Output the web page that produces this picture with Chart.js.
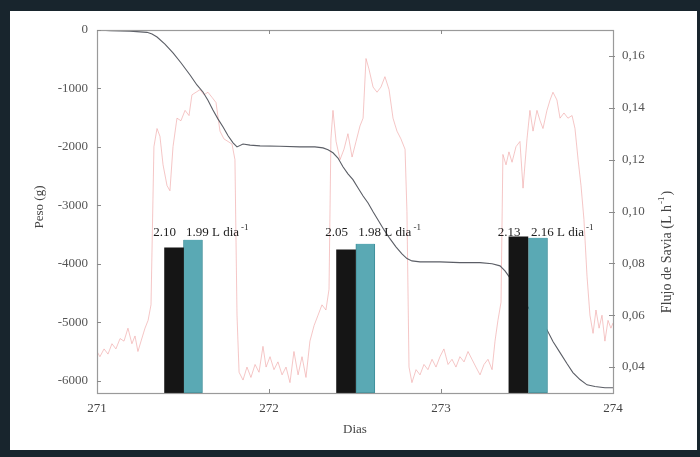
<!DOCTYPE html>
<html><head><meta charset="utf-8">
<script src="https://cdn.jsdelivr.net/npm/chart.js@4.4.0/dist/chart.umd.min.js"></script>
<style>
html,body{margin:0;padding:0;background:#18252d;}
#wrap{position:relative;width:700px;height:457px;overflow:hidden;background:#18252d;}
#panel{position:absolute;left:10px;top:11px;width:687px;height:439px;background:#fff;}
#c{position:absolute;left:0;top:0;}
</style></head><body>
<div id="wrap"><div id="panel"></div><canvas id="c" width="700" height="457"></canvas></div>
<script>
// ---- data ----
const dayTicks = [271, 272, 273, 274];
const pesoTicks = [0, -1000, -2000, -3000, -4000, -5000, -6000];
const flujoTicks = [0.04, 0.06, 0.08, 0.10, 0.12, 0.14, 0.16];

const pesoDays = [271.000,271.076,271.192,271.291,271.320,271.349,271.395,271.442,271.488,271.541,271.581,271.616,271.645,271.674,271.703,271.733,271.762,271.791,271.814,271.849,271.890,271.948,272.064,272.180,272.267,272.314,272.343,272.372,272.401,272.430,272.459,272.488,272.517,272.547,272.576,272.605,272.634,272.669,272.703,272.738,272.773,272.802,272.831,272.878,272.994,273.110,273.227,273.297,273.343,273.372,273.401,273.459,273.517,273.576,273.616,273.651,273.692,273.733,273.767,273.808,273.849,273.895,273.953,274.000];
const pesoValues = [0,-10,-20,-40,-70,-120,-240,-390,-560,-770,-940,-1060,-1200,-1370,-1520,-1660,-1810,-1930,-2000,-1950,-1970,-1983,-1990,-2000,-2000,-2017,-2050,-2100,-2190,-2340,-2460,-2560,-2700,-2840,-2960,-3110,-3250,-3420,-3570,-3710,-3830,-3910,-3950,-3966,-3966,-3980,-3980,-4000,-4035,-4120,-4240,-4530,-4790,-4990,-5130,-5330,-5520,-5710,-5860,-5980,-6070,-6100,-6120,-6120];

const sapDays = [271.000,271.017,271.041,271.064,271.087,271.110,271.134,271.157,271.180,271.203,271.221,271.238,271.256,271.279,271.297,271.314,271.331,271.349,271.366,271.384,271.407,271.424,271.442,271.465,271.488,271.512,271.535,271.552,271.576,271.599,271.622,271.645,271.669,271.692,271.715,271.738,271.762,271.785,271.802,271.814,271.826,
271.849,271.872,271.895,271.919,271.942,271.965,271.983,272.006,272.029,272.052,272.076,272.099,272.122,272.145,272.169,272.192,272.215,272.238,272.262,272.285,272.308,272.331,272.349,272.360,272.372,272.390,272.413,272.436,272.459,272.483,272.506,272.529,272.547,272.564,272.581,272.605,272.628,272.651,272.674,272.698,272.721,272.744,272.767,272.791,272.802,272.814,
272.831,272.855,272.878,272.901,272.924,272.948,272.971,272.994,273.017,273.041,273.064,273.087,273.110,273.134,273.157,273.180,273.203,273.227,273.250,273.273,273.297,273.314,273.331,273.349,273.360,273.378,273.395,273.413,273.436,273.459,273.477,273.500,273.517,273.535,273.558,273.576,273.593,273.616,273.634,273.651,273.674,273.692,273.715,273.738,273.762,273.779,273.797,273.814,273.831,273.849,273.866,273.884,273.901,273.919,273.936,273.953,273.971,273.988,274.000];
const sapValues = [0.046,0.044,0.047,0.045,0.049,0.047,0.051,0.050,0.055,0.049,0.052,0.046,0.050,0.055,0.058,0.064,0.125,0.132,0.129,0.118,0.110,0.108,0.125,0.136,0.135,0.139,0.137,0.145,0.146,0.147,0.145,0.146,0.144,0.142,0.131,0.128,0.127,0.126,0.120,0.060,0.038,
0.035,0.040,0.036,0.041,0.038,0.048,0.040,0.044,0.039,0.042,0.037,0.040,0.034,0.046,0.037,0.044,0.036,0.050,0.056,0.060,0.064,0.062,0.070,0.128,0.139,0.127,0.120,0.124,0.130,0.121,0.127,0.133,0.136,0.159,0.155,0.148,0.146,0.148,0.152,0.147,0.136,0.131,0.128,0.124,0.100,0.040,
0.034,0.039,0.037,0.041,0.039,0.043,0.040,0.044,0.047,0.041,0.043,0.040,0.044,0.042,0.046,0.043,0.040,0.037,0.041,0.043,0.039,0.050,0.058,0.065,0.122,0.118,0.123,0.119,0.125,0.127,0.109,0.128,0.139,0.131,0.139,0.135,0.132,0.139,0.143,0.146,0.143,0.136,0.138,0.136,0.137,0.132,0.120,0.110,0.097,0.075,0.060,0.053,0.062,0.055,0.060,0.050,0.058,0.055,0.057];

// daily transpiration bars (drawn on the Peso axis, top of each bar)
const barDaysBalance = [271.448, 272.448, 273.450];
const barTopsBalance = [-3726, -3761, -3538];
const barDaysSap = [271.558, 272.560, 273.564];
const barTopsSap = [-3590, -3658, -3556];
const labelsBalance = ['2.10', '2.05', '2.13'];
const labelsSap = ['1.99', '1.98', '2.16'];

const PESO_MIN = -6210, PESO_MAX = 0;
const FLUJO_MIN = 0.03, FLUJO_MAX = 0.17;

// ---- build ----
const serif = '"Liberation Serif", "DejaVu Serif", serif';
const pts = (xs, ys) => xs.map((x, i) => ({x: x, y: ys[i]}));
const bars = (xs, tops) => xs.map((x, i) => ({x: x, y: [PESO_MIN, tops[i]]}));

const deco = {
  id: 'deco',
  afterDraw(chart) {
    const {ctx, chartArea: a, scales} = chart;
    const x = scales.x, y = scales.y, y2 = scales.y2;
    ctx.save();
    // frame
    ctx.strokeStyle = '#9a9a9a';
    ctx.lineWidth = 1.2;
    ctx.strokeRect(a.left + 0.5, a.top + 0.5, a.right - a.left, a.bottom - a.top);
    // inside ticks
    ctx.lineWidth = 1;
    ctx.strokeStyle = '#8a8a8a';
    ctx.beginPath();
    pesoTicks.forEach(v => { const p = Math.round(y.getPixelForValue(v)) + 0.5; ctx.moveTo(a.left, p); ctx.lineTo(a.left + 4, p); });
    flujoTicks.forEach(v => { const p = Math.round(y2.getPixelForValue(v)) + 0.5; ctx.moveTo(a.right - 4, p); ctx.lineTo(a.right + 2, p); });
    dayTicks.slice(1, -1).forEach(v => { const p = Math.round(x.getPixelForValue(v)) + 0.5; ctx.moveTo(p, a.bottom); ctx.lineTo(p, a.bottom - 4); ctx.moveTo(p, a.top); ctx.lineTo(p, a.top + 4); });
    ctx.stroke();

    // bar labels
    ctx.fillStyle = '#1e1e1e';
    ctx.textBaseline = 'alphabetic';
    const ly = y.getPixelForValue(-3520);
    for (let i = 0; i < labelsBalance.length; i++) {
      ctx.font = '13px ' + serif;
      ctx.textAlign = 'right';
      ctx.fillText(labelsBalance[i], x.getPixelForValue(barDaysBalance[i]) + 2, ly);
      ctx.textAlign = 'left';
      const sx = x.getPixelForValue(barDaysSap[i]) - 7;
      const t = labelsSap[i] + ' L dia';
      ctx.fillText(t, sx, ly);
      const w = ctx.measureText(t).width;
      ctx.font = '9px ' + serif;
      ctx.fillText('-1', sx + w + 2, ly - 6);
    }

    // axis titles
    ctx.fillStyle = '#444';
    ctx.font = '13px ' + serif;
    ctx.textAlign = 'center';
    ctx.textBaseline = 'middle';
    ctx.fillText('Dias', (a.left + a.right) / 2, 430);
    ctx.save();
    ctx.translate(40, 207);
    ctx.rotate(-Math.PI / 2);
    ctx.fillText('Peso (g)', 0, 0);
    ctx.restore();
    ctx.save();
    ctx.translate(667, 252);
    ctx.rotate(-Math.PI / 2);
    ctx.font = '14px ' + serif;
    const main = 'Flujo de Savia (L h';
    const mw = ctx.measureText(main).width;
    ctx.font = '9px ' + serif;
    const sw = ctx.measureText('-1').width;
    ctx.font = '14px ' + serif;
    const cw = ctx.measureText(')').width;
    const total = mw + sw + 2 + cw;
    ctx.textAlign = 'left';
    ctx.fillText(main, -total / 2, 0);
    ctx.font = '9px ' + serif;
    ctx.fillText('-1', -total / 2 + mw + 1, -5);
    ctx.font = '14px ' + serif;
    ctx.fillText(')', -total / 2 + mw + sw + 2, 0);
    ctx.restore();
    ctx.restore();
  }
};

new Chart(document.getElementById('c'), {
  type: 'line',
  data: {
    datasets: [
      {type: 'bar', label: 'Balanza', data: bars(barDaysBalance, barTopsBalance), xAxisID: 'x', yAxisID: 'y',
       backgroundColor: '#151515', borderColor: '#101010', borderWidth: 0, barThickness: 19, grouped: false, order: 0},
      {type: 'bar', label: 'Flujo de savia diario', data: bars(barDaysSap, barTopsSap), xAxisID: 'x', yAxisID: 'y',
       backgroundColor: '#5aa9b4', borderColor: '#3e8f9a', borderWidth: 1, barThickness: 19, grouped: false, order: 0},
      {label: 'Peso', data: pts(pesoDays, pesoValues), xAxisID: 'x', yAxisID: 'y',
       borderColor: '#5b5e66', borderWidth: 1.1, pointRadius: 0, tension: 0, fill: false, order: 1},
      {label: 'Flujo de Savia', data: pts(sapDays, sapValues), xAxisID: 'x', yAxisID: 'y2',
       borderColor: 'rgba(238,160,160,0.6)', borderWidth: 1, pointRadius: 0, tension: 0, fill: false, order: 2}
    ]
  },
  options: {
    responsive: false,
    animation: false,
    events: [],
    layout: {padding: {left: 10, right: 3, top: 30, bottom: 7}},
    plugins: {legend: {display: false}, tooltip: {enabled: false}},
    scales: {
      x: {type: 'linear', min: 271, max: 274, offset: false,
          afterBuildTicks: s => { s.ticks = dayTicks.map(v => ({value: v})); },
          afterFit: s => { s.height = 57; },
          grid: {display: false, drawTicks: false}, border: {display: false},
          ticks: {padding: 8, color: '#444', font: {family: serif, size: 13}, callback: v => String(v)}},
      y: {type: 'linear', position: 'left', min: PESO_MIN, max: PESO_MAX,
          afterBuildTicks: s => { s.ticks = pesoTicks.map(v => ({value: v})); },
          afterFit: s => { s.width = 87; },
          grid: {display: false, drawTicks: false}, border: {display: false},
          ticks: {padding: 9, color: '#555', font: {family: serif, size: 13}, callback: v => String(v)}},
      y2: {type: 'linear', position: 'right', min: FLUJO_MIN, max: FLUJO_MAX,
          afterBuildTicks: s => { s.ticks = flujoTicks.map(v => ({value: v})); },
          afterFit: s => { s.width = 84; },
          grid: {display: false, drawTicks: false}, border: {display: false},
          ticks: {padding: 9, color: '#555', font: {family: serif, size: 13}, callback: v => v.toFixed(2).replace('.', ',')}}
    }
  },
  plugins: [deco]
});
</script>
</body></html>
